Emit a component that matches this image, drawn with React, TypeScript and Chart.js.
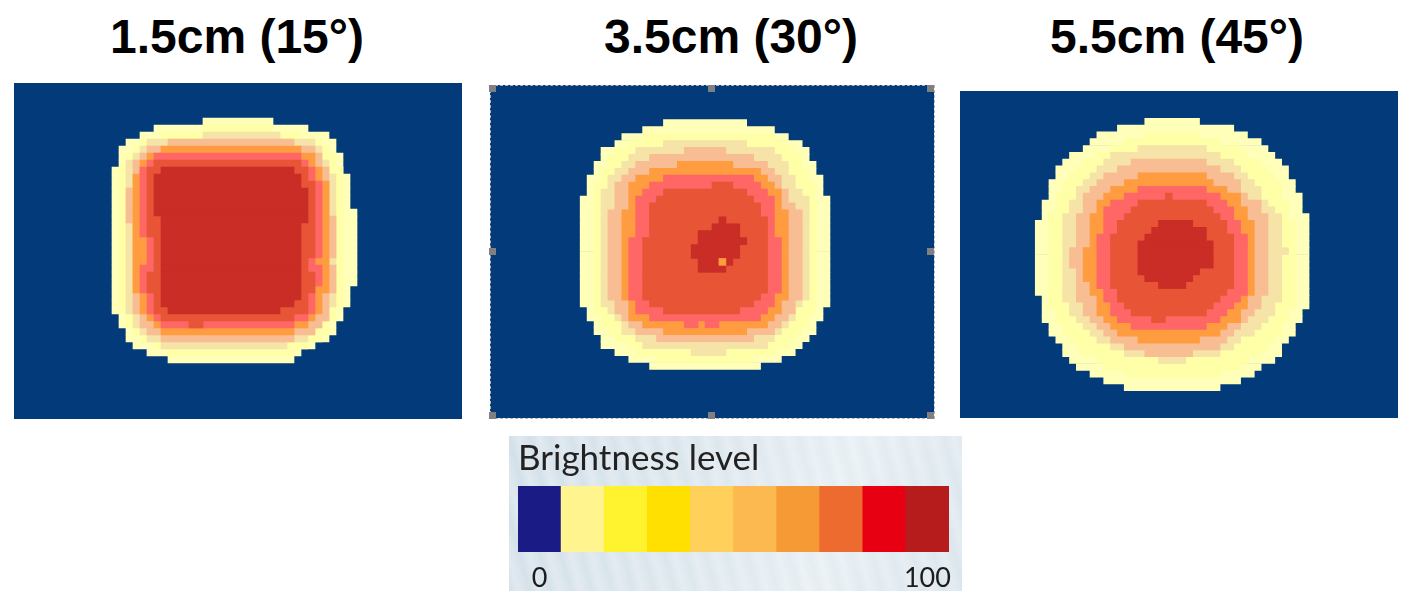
import React, { useEffect, useRef } from "react";
import { Chart, registerables } from "chart.js";

Chart.register(...registerables);

type Span = [number, number];
type Contour = { start: number; spans: Span[] };
type Island = [number, number, number, number];

const levelNames = ["Level 1", "Level 2", "Level 3", "Level 4", "Level 5", "Level 6", "Level 7", "Level 8"];
const levelColors = ["#FFFFB9", "#FFFFA8", "#F5E3A8", "#F8BD93", "#FF9C40", "#FF6666", "#E85436", "#C92D25"];
const rowLabels = Array.from({ length: 48 }, (_, i) => String(i));

const titles = ["1.5cm (15°)", "3.5cm (30°)", "5.5cm (45°)"];

// Panel 1: first row, then [left, right] column of each level on each row
const p1Level1Start = 5;
const p1Level1: Span[] = [[27,37],[20,42],[18,45],[16,46],[15,46],[15,47],[15,47],[14,47],[14,48],[14,48],[14,48],[14,48],[14,48],[14,49],[14,49],[14,49],[14,49],[14,49],[14,49],[14,49],[14,49],[14,49],[14,49],[14,49],[14,48],[14,48],[14,48],[14,47],[15,47],[15,46],[16,46],[16,45],[17,43],[19,41],[22,40]];
const p1Level2Start = 6;
const p1Level2: Span[] = [[27,37],[21,41],[18,44],[17,45],[16,46],[16,46],[15,47],[15,47],[15,47],[15,47],[15,47],[15,47],[15,47],[15,47],[15,47],[15,47],[15,47],[15,47],[15,47],[15,47],[15,47],[15,47],[15,47],[15,47],[15,47],[15,47],[15,46],[16,46],[16,45],[17,45],[18,44],[20,42],[22,40]];
const p1Level3Start = 7;
const p1Level3: Span[] = [[27,38],[19,43],[18,44],[17,44],[16,45],[16,45],[16,46],[16,46],[16,46],[16,46],[16,46],[16,46],[16,46],[16,46],[16,46],[16,46],[16,46],[16,46],[16,46],[16,46],[16,46],[16,46],[16,46],[16,46],[16,46],[16,45],[17,45],[17,44],[18,43],[19,42],[21,39]];
const p1Level4Start = 8;
const p1Level4: Span[] = [[22,40],[19,43],[18,44],[17,44],[17,45],[17,45],[17,45],[16,45],[16,45],[16,45],[16,45],[16,46],[17,46],[17,46],[17,46],[17,46],[17,46],[17,45],[17,46],[17,46],[17,46],[17,46],[17,45],[17,45],[17,45],[18,45],[18,44],[19,43],[21,40]];
const p1Level5Start = 9;
const p1Level5: Span[] = [[21,41],[19,43],[18,43],[18,44],[17,44],[17,45],[17,45],[17,45],[17,45],[17,45],[17,45],[17,45],[17,45],[17,45],[17,45],[17,45],[17,45],[17,45],[17,45],[17,45],[17,45],[18,44],[18,44],[18,44],[19,43],[20,42],[21,40]];
const p1Level6Start = 10;
const p1Level6: Span[] = [[20,41],[19,42],[18,43],[18,43],[18,44],[18,44],[18,44],[18,44],[18,44],[18,44],[18,44],[18,44],[19,44],[19,44],[19,44],[19,43],[18,44],[18,44],[18,44],[18,43],[19,43],[19,43],[19,43],[20,42],[21,40]];
const p1Level7Start = 11;
const p1Level7: Span[] = [[20,41],[19,42],[19,42],[19,43],[19,43],[19,43],[19,43],[19,43],[19,43],[19,43],[19,43],[20,43],[20,43],[20,43],[20,42],[20,42],[19,43],[19,43],[19,43],[20,42],[20,42],[20,42],[21,40]];
const p1Level8Start = 12;
const p1Level8: Span[] = [[21,40],[20,41],[20,41],[20,42],[20,42],[20,42],[20,42],[21,42],[21,41],[21,41],[21,41],[21,41],[21,41],[21,41],[21,41],[21,41],[21,41],[21,41],[21,41],[21,40],[22,38]];
const p1Islands: Island[] = [[6, 34, 25, 27]];

// Panel 2
const p2Level1Start = 5;
const p2Level1: Span[] = [[25,37],[22,41],[19,43],[18,45],[16,46],[16,46],[15,47],[15,47],[14,48],[14,48],[14,48],[13,49],[13,49],[13,49],[13,49],[13,49],[13,49],[13,49],[13,49],[13,49],[13,49],[13,49],[13,49],[13,49],[13,49],[13,49],[13,49],[14,48],[14,48],[15,47],[15,47],[16,46],[16,45],[18,44],[20,42],[23,39]];
const p2Level2Start = 7;
const p2Level2: Span[] = [[22,41],[20,43],[18,44],[17,45],[17,45],[16,46],[16,46],[15,47],[15,47],[15,47],[15,47],[15,47],[15,47],[15,47],[15,47],[15,47],[15,47],[15,47],[15,47],[15,47],[15,47],[15,47],[15,47],[15,47],[15,47],[15,47],[16,46],[16,46],[17,45],[18,44],[20,43],[21,41],[24,38]];
const p2Level3Start = 8;
const p2Level3: Span[] = [[25,37],[21,41],[20,42],[19,43],[18,43],[17,44],[17,44],[16,45],[16,46],[16,46],[16,46],[16,46],[16,46],[16,46],[16,46],[16,46],[16,46],[16,46],[16,46],[16,46],[16,46],[16,46],[16,46],[16,45],[17,44],[18,44],[19,43],[19,42],[21,41],[22,40],[29,34]];
const p2Level4Start = 9;
const p2Level4: Span[] = [[28,34],[23,38],[21,40],[20,41],[19,42],[18,42],[18,43],[18,43],[18,44],[17,45],[17,45],[17,45],[17,45],[17,45],[17,45],[17,45],[17,45],[17,45],[17,45],[17,45],[17,45],[17,45],[18,44],[18,44],[19,43],[20,42],[21,41],[24,38]];
const p2Level5Start = 11;
const p2Level5: Span[] = [[27,35],[23,39],[21,40],[20,41],[20,42],[20,42],[20,42],[19,43],[19,43],[19,43],[19,43],[19,43],[19,43],[19,43],[19,43],[19,43],[19,43],[19,43],[19,43],[19,43],[20,42],[20,42],[20,41],[22,40],[25,37]];
const p2Level6Start = 13;
const p2Level6: Span[] = [[25,38],[23,39],[22,40],[21,41],[21,41],[21,41],[21,41],[21,41],[21,41],[20,42],[20,42],[20,42],[20,42],[20,42],[20,42],[20,42],[20,42],[20,41],[21,41],[21,40],[23,39]];
const p2Level7Start = 14;
const p2Level7: Span[] = [[32,35],[25,37],[24,38],[23,39],[23,39],[23,40],[23,40],[23,40],[22,40],[22,40],[22,40],[22,40],[22,40],[22,40],[22,40],[22,40],[22,39],[23,38],[25,36]];
const p2Level8Start = 19;
const p2Level8: Span[] = [[33,34],[32,36],[30,36],[30,37],[29,36],[29,36],[30,35],[30,34]];
const p2Islands: Island[] = [[5, 34, 28, 30], [5, 34, 31, 33], [4, 25, 33, 34]];

// Panel 3
const p3Level1Start = 4;
const p3Level1: Span[] = [[27,35],[23,40],[20,42],[19,44],[18,45],[16,46],[15,47],[14,48],[14,48],[13,49],[13,49],[13,50],[12,50],[12,50],[12,51],[11,51],[11,51],[11,51],[11,51],[11,51],[11,51],[11,51],[11,51],[11,51],[11,51],[11,51],[12,51],[12,51],[12,50],[12,50],[13,49],[13,49],[14,48],[15,47],[15,47],[16,46],[17,44],[19,43],[21,41],[24,38]];
const p3Level2Start = 6;
const p3Level2: Span[] = [[27,35],[24,38],[22,41],[20,42],[18,44],[17,45],[16,46],[15,47],[15,47],[14,47],[14,48],[14,48],[13,48],[13,49],[13,49],[13,49],[13,49],[13,49],[13,49],[13,49],[13,49],[13,49],[13,49],[13,49],[13,49],[13,49],[14,48],[14,48],[15,47],[15,47],[16,46],[17,45],[18,44],[20,42],[21,41],[24,38]];
const p3Level3Start = 8;
const p3Level3: Span[] = [[26,36],[22,38],[21,40],[20,41],[19,42],[18,43],[17,44],[17,44],[16,45],[16,46],[15,47],[15,47],[15,47],[15,47],[15,47],[15,47],[15,47],[15,47],[15,47],[15,47],[15,47],[15,47],[15,47],[16,46],[16,46],[17,45],[18,44],[19,43],[20,41],[22,40],[24,38],[29,33]];
const p3Level4Start = 10;
const p3Level4: Span[] = [[25,36],[23,38],[21,40],[20,41],[19,41],[18,42],[18,44],[18,44],[17,45],[17,45],[17,45],[17,45],[17,45],[16,45],[16,45],[16,45],[17,45],[17,45],[17,45],[17,45],[17,44],[18,44],[18,43],[19,42],[20,41],[21,40],[22,39],[24,38],[27,34]];
const p3Level5Start = 12;
const p3Level5: Span[] = [[26,36],[24,37],[22,39],[21,41],[20,41],[20,42],[19,42],[19,43],[19,43],[19,43],[19,43],[18,43],[18,43],[18,43],[18,43],[18,43],[19,43],[19,43],[20,42],[20,42],[20,41],[21,41],[22,39],[23,38],[26,35]];
const p3Level6Start = 14;
const p3Level6: Span[] = [[26,36],[24,38],[22,39],[21,40],[21,40],[21,41],[21,41],[20,42],[20,42],[20,42],[20,42],[20,42],[20,42],[20,42],[20,42],[21,42],[21,41],[22,40],[22,39],[23,38],[25,36]];
const p3Level7Start = 16;
const p3Level7: Span[] = [[26,36],[25,37],[24,38],[23,39],[23,39],[22,40],[22,40],[22,40],[22,40],[22,40],[22,40],[22,40],[22,40],[23,39],[23,38],[24,37],[25,36],[28,30]];
const p3Level8Start = 19;
const p3Level8: Span[] = [[29,34],[28,36],[27,36],[26,37],[26,37],[26,37],[26,37],[26,35],[27,34],[29,33]];
const p3Islands: Island[] = [[6, 15, 30, 31], [2, 23, 47, 48]];

// Colour scale legend
const legendLabels = ["0", "", "", "", "", "", "", "", "", "100"];
const legendValues = [1, 1, 1, 1, 1, 1, 1, 1, 1, 1];
const legendColors = ["#1B1B86", "#FFF48E", "#FFF22E", "#FFE000", "#FFD05A", "#FBB950", "#F59A35", "#EE6B30", "#E60012", "#B71C1C"];

const panel1: Contour[] = [
  { start: p1Level1Start, spans: p1Level1 }, { start: p1Level2Start, spans: p1Level2 },
  { start: p1Level3Start, spans: p1Level3 }, { start: p1Level4Start, spans: p1Level4 },
  { start: p1Level5Start, spans: p1Level5 }, { start: p1Level6Start, spans: p1Level6 },
  { start: p1Level7Start, spans: p1Level7 }, { start: p1Level8Start, spans: p1Level8 },
];
const panel2: Contour[] = [
  { start: p2Level1Start, spans: p2Level1 }, { start: p2Level2Start, spans: p2Level2 },
  { start: p2Level3Start, spans: p2Level3 }, { start: p2Level4Start, spans: p2Level4 },
  { start: p2Level5Start, spans: p2Level5 }, { start: p2Level6Start, spans: p2Level6 },
  { start: p2Level7Start, spans: p2Level7 }, { start: p2Level8Start, spans: p2Level8 },
];
const panel3: Contour[] = [
  { start: p3Level1Start, spans: p3Level1 }, { start: p3Level2Start, spans: p3Level2 },
  { start: p3Level3Start, spans: p3Level3 }, { start: p3Level4Start, spans: p3Level4 },
  { start: p3Level5Start, spans: p3Level5 }, { start: p3Level6Start, spans: p3Level6 },
  { start: p3Level7Start, spans: p3Level7 }, { start: p3Level8Start, spans: p3Level8 },
];

function HeatPanel({ contours, islands, box }: { contours: Contour[]; islands: Island[]; box: number[] }) {
  const ref = useRef<HTMLCanvasElement>(null);
  useEffect(() => {
    const datasets: any[] = contours.map((c, i) => {
      const data: (Span | null)[] = rowLabels.map(() => null);
      c.spans.forEach((s, k) => { data[c.start + k] = s; });
      return { label: levelNames[i], data, backgroundColor: levelColors[i], order: 100 - i };
    });
    islands.forEach(([lvl, row, l, r]) => {
      const data: (Span | null)[] = rowLabels.map(() => null);
      data[row] = [l, r];
      datasets.push({ label: levelNames[lvl], data, backgroundColor: levelColors[lvl], order: 0 });
    });
    const chart = new Chart(ref.current!, {
      type: "bar",
      data: { labels: rowLabels, datasets },
      options: {
        indexAxis: "y",
        responsive: false,
        animation: false,
        devicePixelRatio: 1,
        layout: { padding: 0 },
        datasets: { bar: { grouped: false, barPercentage: 1, categoryPercentage: 1, borderWidth: 0 } },
        plugins: { legend: { display: false }, tooltip: { enabled: false }, title: { display: false } },
        scales: {
          x: { type: "linear", min: 0, max: 64, display: false },
          y: { type: "category", display: false },
        },
      } as any,
    });
    return () => chart.destroy();
  }, []);
  return (
    <canvas
      ref={ref}
      width={box[2]}
      height={box[3]}
      style={{ position: "absolute", left: box[0], top: box[1], width: box[2], height: box[3], background: "#023A7A" }}
    />
  );
}

function LegendChart() {
  const ref = useRef<HTMLCanvasElement>(null);
  useEffect(() => {
    const chart = new Chart(ref.current!, {
      type: "bar",
      data: {
        labels: legendLabels,
        datasets: [{ label: "Brightness level", data: legendValues, backgroundColor: legendColors, borderWidth: 0, barPercentage: 1, categoryPercentage: 1 }],
      },
      options: {
        responsive: false,
        animation: false,
        devicePixelRatio: 1,
        layout: { padding: { left: 9, right: 13, top: 0, bottom: 0 } },
        plugins: {
          legend: { display: false },
          tooltip: { enabled: false },
          title: {
            display: true,
            text: "Brightness level",
            align: "start",
            color: "#222222",
            font: { family: "Lato", size: 35, weight: "normal" },
            padding: { top: 2, bottom: 6 },
          },
        },
        scales: {
          x: {
            grid: { display: false },
            border: { display: false },
            ticks: { autoSkip: false, maxRotation: 0, color: "#1c1c1c", padding: 2, font: { family: "Lato", size: 27 } },
            afterFit: (s: any) => { s.height = 39; },
          },
          y: { display: false, min: 0, max: 1 },
        },
      } as any,
    });
    return () => chart.destroy();
  }, []);
  return (
    <canvas
      ref={ref}
      width={453}
      height={155}
      style={{
        position: "absolute", left: 509, top: 436, width: 453, height: 155,
        background:
          "repeating-linear-gradient(75deg,rgba(255,255,255,0) 0px,rgba(255,255,255,0.28) 9px,rgba(255,255,255,0) 20px),linear-gradient(105deg,#d3e0e9 0%,#dbe6ed 40%,#e6eef3 70%,#dae5ec 100%)",
        filter: "blur(0.5px)",
      }}
    />
  );
}

const titleCenters = [237, 731, 1177];
const handles = [[489, 85], [708, 85], [927, 85], [489, 248], [927, 248], [489, 412], [708, 412], [927, 412]];

export default function App() {
  return (
    <div style={{ position: "absolute", left: 0, top: 0, width: 1412, height: 602, background: "#fff", overflow: "hidden" }}>
      {titles.map((t, i) => (
        <div
          key={t}
          style={{
            position: "absolute", left: titleCenters[i] - 200, top: 10, width: 400, textAlign: "center",
            font: "bold 48px 'Liberation Sans'", lineHeight: "54px", color: "#000",
          }}
        >
          {t}
        </div>
      ))}
      <HeatPanel contours={panel1} islands={p1Islands} box={[14, 83, 448, 336]} />
      <HeatPanel contours={panel2} islands={p2Islands} box={[490, 85, 444, 333]} />
      <HeatPanel contours={panel3} islands={p3Islands} box={[960, 91, 438, 327]} />
      <div style={{ position: "absolute", left: 490, top: 85, width: 443, height: 332, border: "1px dashed #b5b5b5" }} />
      {handles.map(([x, y]) => (
        <div key={`${x}-${y}`} style={{ position: "absolute", left: x, top: y, width: 7, height: 7, background: "#808080" }} />
      ))}
      <LegendChart />
    </div>
  );
}
